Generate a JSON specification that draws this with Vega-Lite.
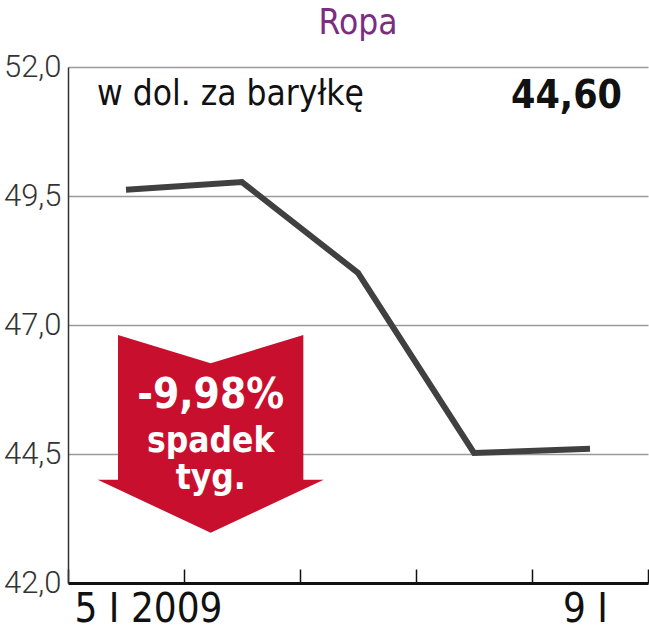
{
  "$schema": "https://vega.github.io/schema/vega-lite/v6.json",
  "width": 580,
  "height": 516,
  "autosize": {"type": "none"},
  "padding": {"left": 68, "top": 67, "right": 1, "bottom": 57},
  "background": "white",
  "title": {
    "text": "Ropa",
    "color": "#7b2d80",
    "fontSize": 35,
    "fontWeight": "normal",
    "font": "DejaVu Sans Condensed",
    "anchor": "middle",
    "frame": "group",
    "offset": 10
  },
  "config": {
    "view": {"stroke": null},
    "font": "DejaVu Sans Condensed"
  },
  "datasets": {
    "prices": [
      {"day": "5 I", "value": 49.62},
      {"day": "6 I", "value": 49.77},
      {"day": "7 I", "value": 48.01},
      {"day": "8 I", "value": 44.52},
      {"day": "9 I", "value": 44.60}
    ],
    "notes": [
      {"day": "5 I", "value": 52, "text": "w dol. za baryłkę"}
    ],
    "last": [
      {"day": "9 I", "value": 52, "text": "44,60"}
    ],
    "change": [
      {"day": "6 I", "value": 44.9, "pct": "-9,98%", "label": ["spadek", "tyg."]}
    ]
  },
  "encoding": {
    "x": {
      "field": "day",
      "type": "ordinal",
      "sort": null,
      "scale": {"domain": ["5 I", "6 I", "7 I", "8 I", "9 I"], "paddingInner": 0, "paddingOuter": 0},
      "axis": {
        "title": null,
        "tickBand": "extent",
        "domainColor": "#111111",
        "domainWidth": 3,
        "tickColor": "#111111",
        "tickWidth": 1.5,
        "tickSize": -14,
        "labelExpr": "datum.value == '5 I' ? '5 I 2009' : (datum.value == '9 I' ? '9 I' : '')",
        "labelFontSize": 40,
        "labelFont": "DejaVu Sans Condensed",
        "labelColor": "#111111",
        "labelPadding": 20,
        "labelAngle": 0,
        "labelOffset": {"condition": {"test": "datum.value == '5 I'", "value": 22}, "value": -5}
      }
    },
    "y": {
      "field": "value",
      "type": "quantitative",
      "scale": {"domain": [42, 52], "nice": false, "zero": false},
      "axis": {
        "title": null,
        "values": [42, 44.5, 47, 49.5, 52],
        "labelExpr": "replace(format(datum.value, '.1f'), '.', ',')",
        "grid": true,
        "gridColor": "#9a9a9a",
        "gridWidth": 1.5,
        "ticks": false,
        "domainColor": "#333333",
        "domainWidth": 1.5,
        "labelPadding": 7,
        "labelFontSize": 31,
        "labelFont": "Roboto",
        "labelFontWeight": 300,
        "labelColor": "#333333",
        "labelBaseline": "middle"
      }
    }
  },
  "layer": [
    {
      "data": {"name": "change"},
      "mark": {
        "type": "point",
        "filled": true,
        "opacity": 1,
        "color": "#c8102e",
        "strokeWidth": 0,
        "size": 51076,
        "shape": "M-0.82,-0.87L0,-0.62L0.82,-0.87L0.82,0.41L1,0.41L0,0.88L-1,0.41L-0.82,0.41Z"
      },
      "encoding": {
        "x": {"field": "day", "type": "ordinal", "bandPosition": 0.23}
      }
    },
    {
      "data": {"name": "change"},
      "mark": {"type": "text", "color": "white", "fontWeight": "bold", "fontSize": 42, "baseline": "alphabetic", "align": "center", "dy": -25, "font": "DejaVu Sans Condensed"},
      "encoding": {
        "x": {"field": "day", "type": "ordinal", "bandPosition": 0.23},
        "text": {"field": "pct"}
      }
    },
    {
      "data": {"name": "change"},
      "mark": {"type": "text", "color": "white", "fontWeight": "bold", "fontSize": 35, "lineHeight": 37, "baseline": "alphabetic", "align": "center", "dy": 19, "font": "DejaVu Sans Condensed"},
      "encoding": {
        "x": {"field": "day", "type": "ordinal", "bandPosition": 0.23},
        "text": {"field": "label"}
      }
    },
    {
      "data": {"name": "prices"},
      "mark": {"type": "line", "color": "#404040", "strokeWidth": 6, "strokeCap": "butt", "strokeJoin": "miter"}
    },
    {
      "data": {"name": "notes"},
      "mark": {"type": "text", "color": "#111111", "fontSize": 35, "align": "left", "baseline": "alphabetic", "dx": 29, "dy": 38, "font": "DejaVu Sans Condensed"},
      "encoding": {
        "x": {"field": "day", "type": "ordinal", "bandPosition": 0},
        "text": {"field": "text"}
      }
    },
    {
      "data": {"name": "last"},
      "mark": {"type": "text", "color": "#111111", "fontSize": 39, "fontWeight": "bold", "align": "right", "baseline": "alphabetic", "dx": -26, "dy": 41, "font": "DejaVu Sans Condensed"},
      "encoding": {
        "x": {"field": "day", "type": "ordinal", "bandPosition": 1},
        "text": {"field": "text"}
      }
    }
  ]
}
